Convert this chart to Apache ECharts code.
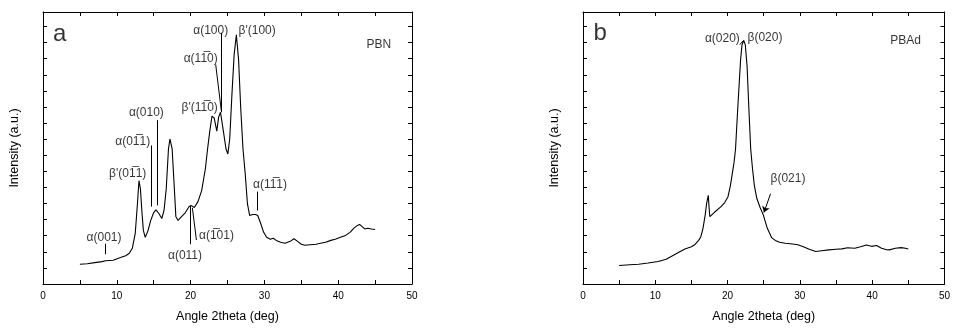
<!DOCTYPE html>
<html><head><meta charset="utf-8">
<script src="https://cdn.jsdelivr.net/npm/echarts@6/dist/echarts.min.js"></script>
<style>html,body{margin:0;padding:0;background:#fff}#c{width:953px;height:328px}</style>
</head><body><div id="c"></div>
<script>
// ---- Panel a: PBN (2theta, intensity a.u.)
const pbnAngle = [5.0,6.0,7.0,8.0,8.5,9.5,10.5,11.2,11.7,12.1,12.5,12.8,13.0,13.2,13.4,13.6,13.85,14.2,14.6,15.0,15.3,15.7,16.1,16.4,16.7,17.0,17.2,17.5,17.8,18.0,18.3,18.8,19.3,19.8,20.1,20.5,21.0,21.5,22.0,22.3,22.6,22.9,23.2,23.55,23.8,24.05,24.4,24.8,25.05,25.3,25.6,25.9,26.2,26.5,26.8,27.1,27.4,27.7,28.0,28.4,28.8,29.1,29.5,29.9,30.3,30.8,31.2,31.6,32.2,32.8,33.5,34.0,34.5,35.0,35.5,36.2,37.0,37.6,38.3,39.0,39.6,40.3,41.0,41.6,42.1,42.6,42.9,43.2,43.6,44.0,44.5,45.0];
const pbnIntensity = [123,126,133,139,144,148,164,176,191,222,315,500,642,592,450,333,290,327,395,444,460,438,407,457,592,839,901,839,592,420,395,420,444,481,487,475,512,580,716,839,950,1043,1030,950,1037,1067,962,839,808,901,1178,1425,1549,1394,1086,839,685,500,426,432,432,426,376,321,290,278,284,271,259,253,265,281,265,247,241,244,247,253,259,271,278,290,302,321,346,364,370,358,342,346,342,339];

// ---- Panel b: PBAd
const pbadAngle = [5.0,6.5,7.7,9.0,10.4,11.5,12.2,13.0,14.1,15.0,15.4,16.0,16.3,16.6,16.9,17.1,17.33,17.45,17.55,17.8,18.15,19.05,19.6,20.05,20.4,20.9,21.1,21.4,21.8,22.0,22.23,22.45,22.7,22.95,23.2,23.45,23.7,24.05,24.5,24.95,25.5,26.1,26.6,27.2,28.0,29.0,29.7,30.4,31.3,32.2,33.0,34.0,35.0,35.8,36.6,37.6,38.4,39.2,39.9,40.6,41.3,42.0,42.4,43.2,44.0,44.6,45.0];
const pbadIntensity = [115,120,123,130,140,154,171,191,218,231,242,271,294,346,428,500,551,469,418,429,444,479,506,541,613,757,839,1086,1394,1487,1513,1487,1353,1086,839,716,613,531,475,428,346,288,271,259,253,249,244,233,216,202,207,212,216,218,225,222,231,242,234,239,222,213,212,222,226,222,218];

// ---- axis ticks
const xTicks = [0,10,20,30,40,50];

// ---- annotations panel a
const OL = '\u0305';
const annotA_text = ['α(100)', "β'(100)", 'α(11'+OL+'0)', "β'(11"+OL+'0)', 'α(010)', 'α(01'+OL+'1)', "β'(01"+OL+'1)', 'α(001)', 'α(011)', 'α(1'+OL+'01)', 'α(11'+OL+'1)'];
const annotA_x = [22.72,29.02,21.37,21.23,14.01,12.15,11.48,8.27,19.24,23.5,30.76];
const annotA_y = [1575,1575,1399,1098,1066,884,685,288,177,300,617];
const leaderA = [
  [[24.17,1561],[24.17,1067]],
  [[23.4,1364],[24.17,1074]],
  [[15.45,1018],[15.45,488]],
  [[14.69,861],[14.69,481]],
  [[8.5,250],[8.5,185]],
  [[19.97,247],[19.97,487]],
  [[20.79,273],[20.24,473]],
  [[29.05,574],[29.05,457]]
];
// ---- annotations panel b
const annotB_text = ['α(020)', 'β(020)', 'β(021)'];
const annotB_x = [19.28,25.17,28.35];
const annotB_y = [1522,1528,654];
const leaderB = [[[21.69,1487],[22.17,1512]]];
const arrowB = [[[25.95,561],[25.03,444]]];

const panelLetters = ['a','b'];
const letterX = [2.26,2.38];
const letterY = [1549,1559];
const sampleNames = ['PBN','PBAd'];
const sampleX = [45.49,44.63];
const sampleY = [1487,1513];

const FONT = 'Liberation Sans, Arial, sans-serif';
const chart = echarts.init(document.getElementById('c'), null, {renderer:'canvas'});
const grids = [
  {left:43, right:541, top:12, bottom:42},
  {left:583, right:2, top:12, bottom:42}
];
const axLine = {show:true, onZero:false, lineStyle:{color:'#000', width:1}};
function xAx(i, pos, labels, name){
  return {type:'value', gridIndex:i, position:pos, min:0, max:50, interval:5,
    axisLine:axLine, axisTick:{show:true, inside:true, length:4, lineStyle:{color:'#000'}},
    splitLine:{show:false},
    axisLabel:{show:labels, color:'#000', fontSize:10, fontFamily:FONT, margin:7,
      formatter:v=> xTicks.includes(v)? String(v):''},
    name: name||'', nameLocation:'middle', nameGap:26,
    nameTextStyle:{color:'#000', fontSize:12.5, fontFamily:FONT}};
}
function yAx(i, pos, name){
  return {type:'value', gridIndex:i, position:pos, min:0, max:1690, interval:100,
    axisLine:axLine, axisTick:{show:true, inside:true, length:4, lineStyle:{color:'#000'}},
    splitLine:{show:false}, axisLabel:{show:false},
    name: name||'', nameLocation:'middle', nameGap:22,
    nameTextStyle:{color:'#000', fontSize:12.5, fontFamily:FONT}};
}
function zip(a,b){return a.map((v,i)=>[v,b[i]]);}
function textSeries(idx, xs, ys, texts, size){
  return {type:'scatter', xAxisIndex:idx, yAxisIndex:idx, symbolSize:0, silent:true,
    itemStyle:{color:'#000'},
    data: texts.map((t,i)=>({name:t, value:[xs[i], ys[i]]})),
    label:{show:true, position:'inside', formatter:'{b}', color:'#000', fontSize:size, fontFamily:FONT,
      textBorderWidth:0, textBorderColor:'transparent'},
    z:5};
}
function lineSeg(idx, segs, arrow){
  return {type:'lines', coordinateSystem:'cartesian2d', xAxisIndex:idx, yAxisIndex:idx, silent:true,
    symbol: arrow? ['none','arrow']:['none','none'], symbolSize: arrow?6:0,
    lineStyle:{color:'#000', width:1, opacity:1},
    data: segs.map(s=>({coords:s}))};
}
const series = [
  {type:'line', xAxisIndex:0, yAxisIndex:0, data:zip(pbnAngle,pbnIntensity), showSymbol:false,
    lineStyle:{color:'#000', width:1.1}, silent:true},
  {type:'line', xAxisIndex:1, yAxisIndex:1, data:zip(pbadAngle,pbadIntensity), showSymbol:false,
    lineStyle:{color:'#000', width:1.1}, silent:true},
  textSeries(0, annotA_x, annotA_y, annotA_text, 12),
  textSeries(1, annotB_x, annotB_y, annotB_text, 12),
  textSeries(0, [sampleX[0]], [sampleY[0]], [sampleNames[0]], 12),
  textSeries(1, [sampleX[1]], [sampleY[1]], [sampleNames[1]], 12),
  textSeries(0, [letterX[0]], [letterY[0]], [panelLetters[0]], 24),
  textSeries(1, [letterX[1]], [letterY[1]], [panelLetters[1]], 24),
  lineSeg(0, leaderA, false),
  lineSeg(1, leaderB, false),
  lineSeg(1, arrowB, true)
];
chart.setOption({
  animation:false,
  backgroundColor:'#fff',
  grid: grids,
  xAxis:[xAx(0,'bottom',true,'Angle 2theta (deg)'), xAx(1,'bottom',true,'Angle 2theta (deg)'),
         xAx(0,'top',false), xAx(1,'top',false)],
  yAxis:[yAx(0,'left','Intensity (a.u.)'), yAx(1,'left','Intensity (a.u.)'),
         yAx(0,'right'), yAx(1,'right')],
  series: series
});
</script></body></html>
